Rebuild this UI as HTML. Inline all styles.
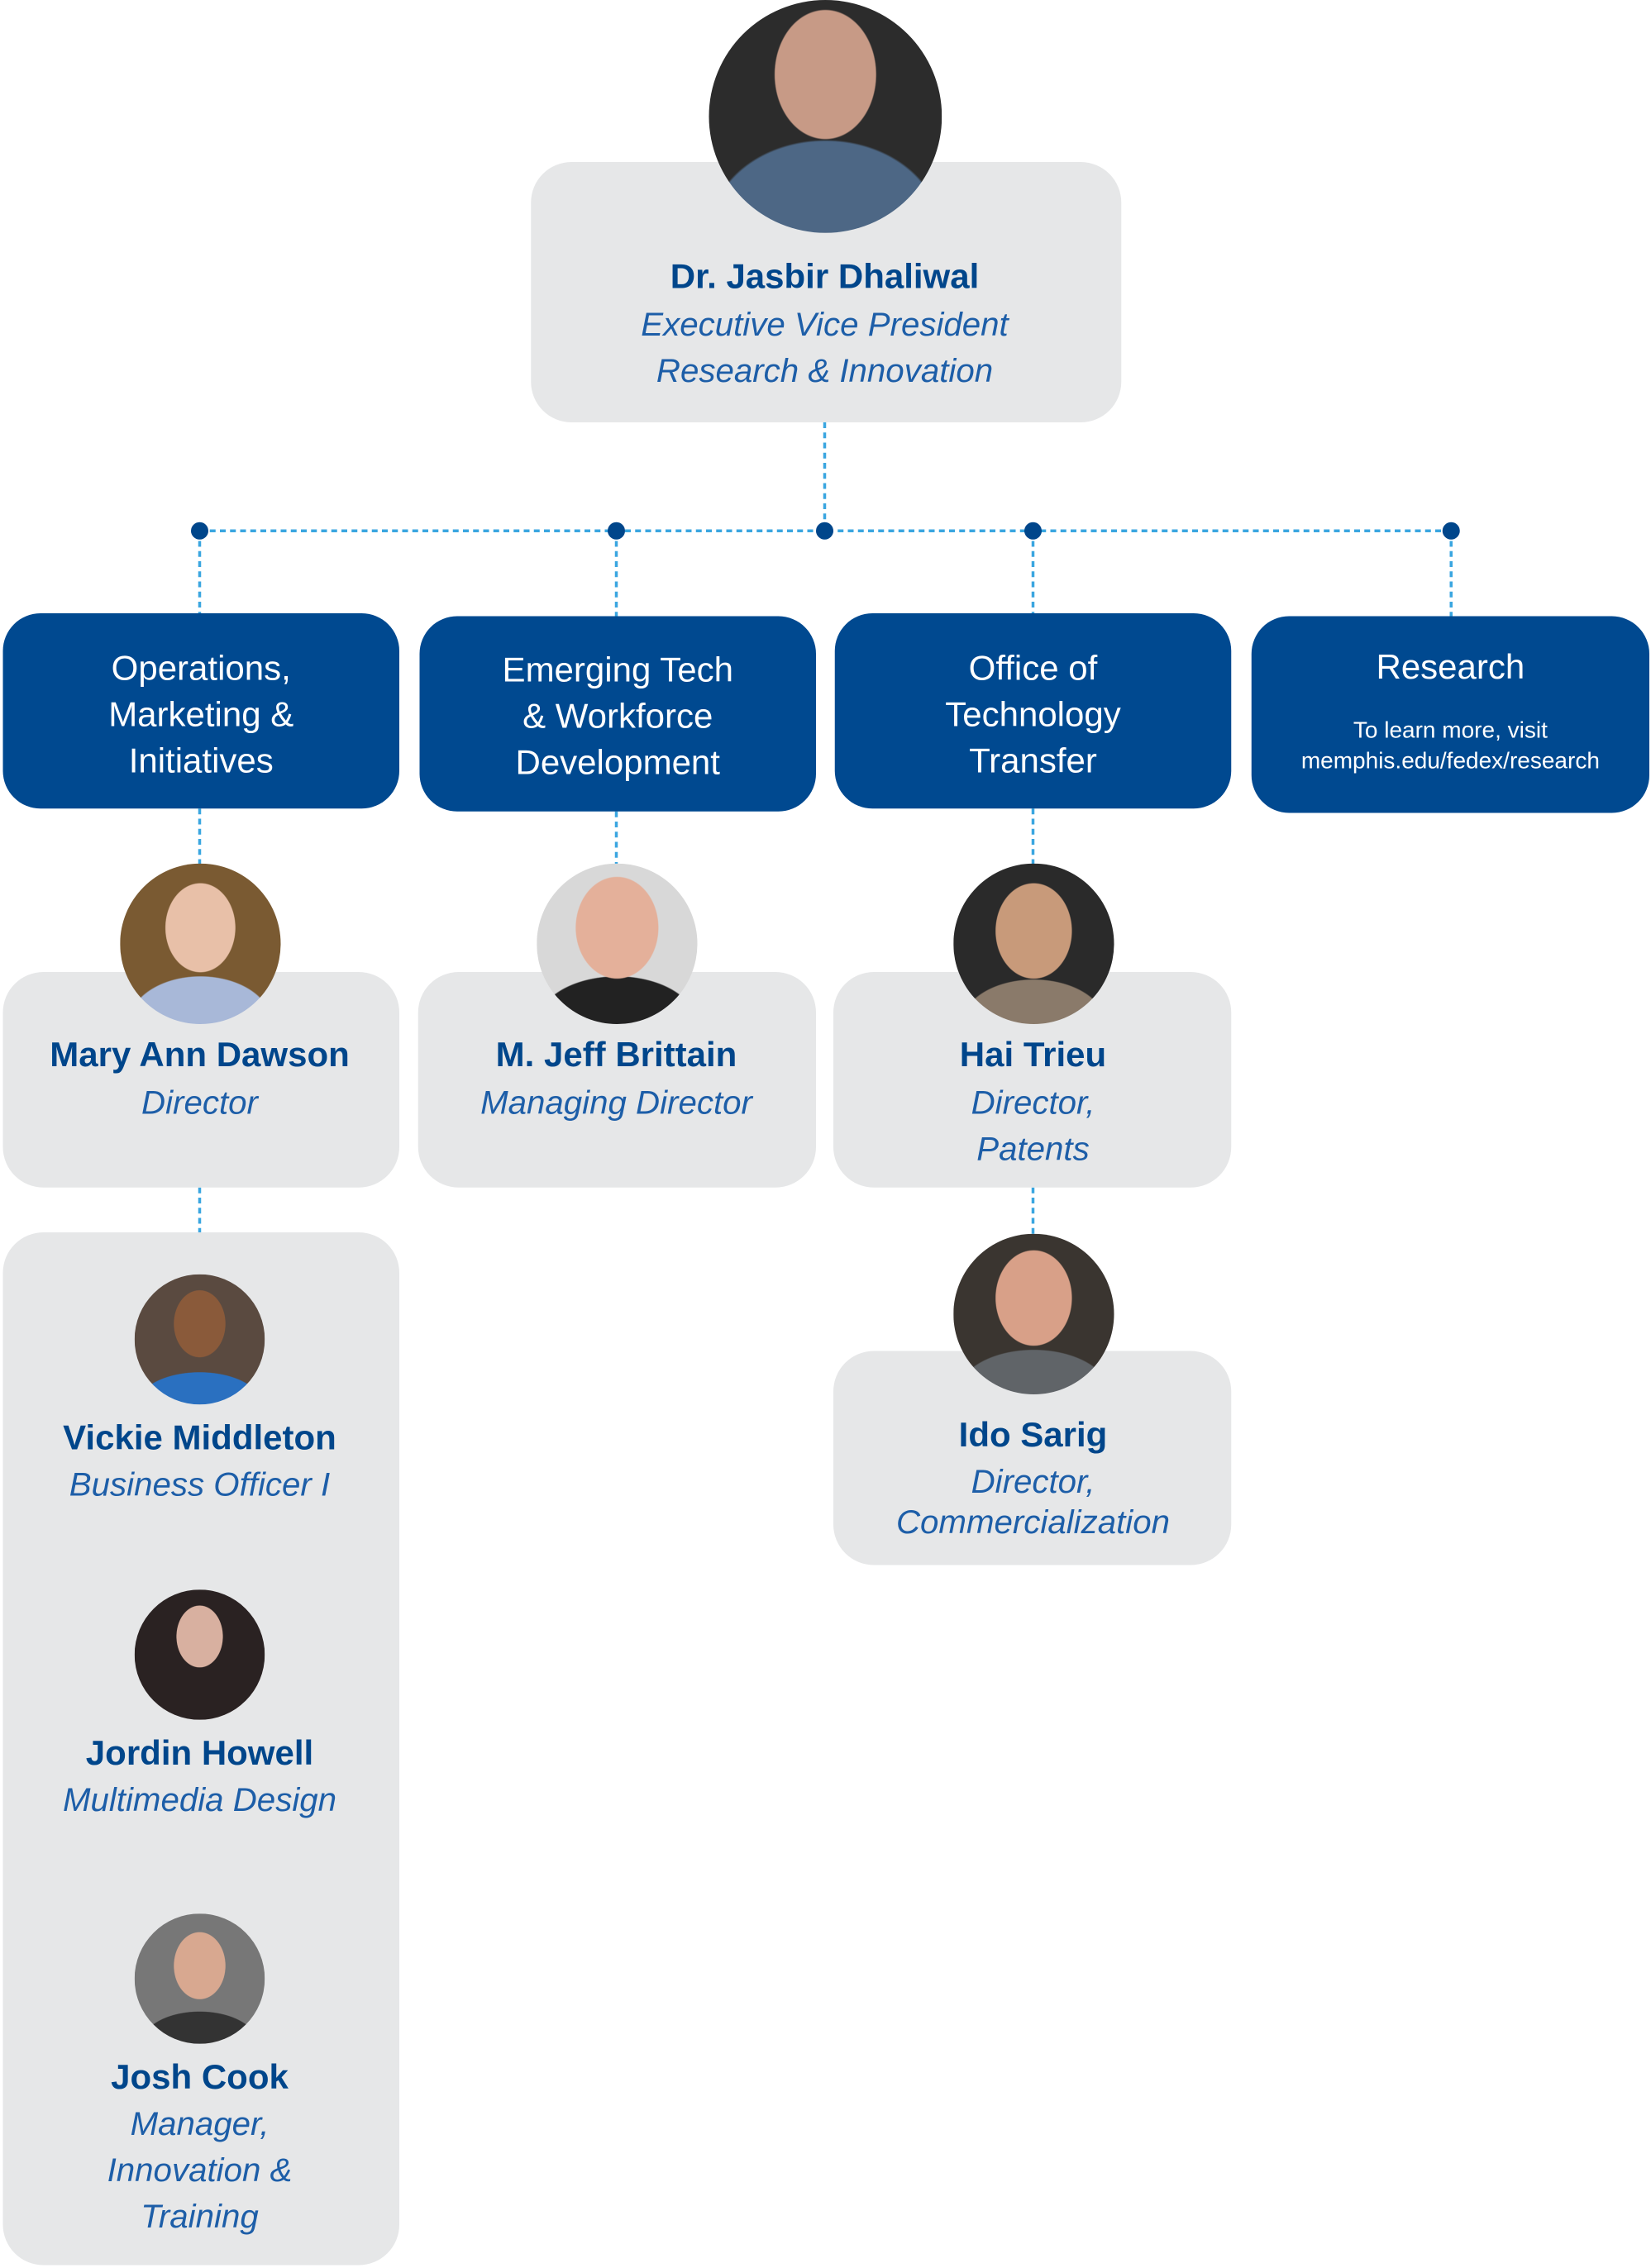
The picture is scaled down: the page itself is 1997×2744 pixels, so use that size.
<!DOCTYPE html>
<html><head><meta charset="utf-8"><style>
html,body{margin:0;padding:0;background:#fff}
body{width:1997px;height:2744px;overflow:hidden;position:relative}
#w{position:absolute;left:0;top:0;width:1141px;height:1568px;transform:scale(1.75);transform-origin:0 0;font-family:"Liberation Sans",sans-serif}
.card{position:absolute;background:#e6e7e8;border-radius:28px}
.blue{position:absolute;background:#004990;border-radius:26px;color:#fff;text-align:center;font-size:24px;line-height:32px;box-sizing:border-box}
.ph{position:absolute;border-radius:50%;overflow:hidden}
.t{position:absolute;text-align:center;white-space:nowrap;transform:translateX(-50%)}
.n{font-weight:bold;color:#00468b;font-size:24px}
.i{font-style:italic;color:#1d5ea8;font-size:23px}
</style></head><body><div id="w">
<svg width="1141" height="1568" style="position:absolute;left:0;top:0">
<g stroke="#3aa6e0" stroke-width="2" stroke-dasharray="4,3" fill="none">
<line x1="570" y1="292" x2="570" y2="367"/>
<line x1="138" y1="367" x2="1003" y2="367"/>
<line x1="138" y1="367" x2="138" y2="424"/>
<line x1="426" y1="367" x2="426" y2="426"/>
<line x1="714" y1="367" x2="714" y2="424"/>
<line x1="1003" y1="367" x2="1003" y2="426"/>
<line x1="138" y1="559" x2="138" y2="600"/>
<line x1="426" y1="561" x2="426" y2="600"/>
<line x1="714" y1="559" x2="714" y2="600"/>
<line x1="138" y1="821" x2="138" y2="852"/>
<line x1="714" y1="821" x2="714" y2="855"/>
</g>
<g fill="#00468b"><circle cx="138" cy="367" r="6"/><circle cx="426" cy="367" r="6"/><circle cx="570" cy="367" r="6"/><circle cx="714" cy="367" r="6"/><circle cx="1003" cy="367" r="6"/></g>
</svg>
<div class="card" style="left:367px;top:112px;width:408px;height:180px"></div>
<div class="ph" style="left:490px;top:0;width:161px;height:161px;background:radial-gradient(ellipse 22% 28% at 50% 32%,#c79a86 98%,transparent 100%),radial-gradient(ellipse 50% 40% at 50% 100%,#4d6785 98%,transparent 100%),#2c2c2c"></div>
<div class="t n" style="left:570px;top:178px">Dr. Jasbir Dhaliwal</div>
<div class="t i" style="left:570px;top:211px">Executive Vice President</div>
<div class="t i" style="left:570px;top:243px">Research &amp; Innovation</div>

<div class="blue" style="left:2px;top:424px;width:274px;height:135px;padding-top:23px">Operations,<br>Marketing &amp;<br>Initiatives</div>
<div class="blue" style="left:290px;top:426px;width:274px;height:135px;padding-top:22px">Emerging Tech<br>&amp; Workforce<br>Development</div>
<div class="blue" style="left:577px;top:424px;width:274px;height:135px;padding-top:23px">Office of<br>Technology<br>Transfer</div>
<div class="blue" style="left:865px;top:426px;width:275px;height:136px;padding-top:20px">Research<div style="font-size:16px;line-height:21px;margin-top:17px">To learn more, visit<br>memphis.edu/fedex/research</div></div>

<div class="card" style="left:2px;top:672px;width:274px;height:149px"></div>
<div class="card" style="left:289px;top:672px;width:275px;height:149px"></div>
<div class="card" style="left:576px;top:672px;width:275px;height:149px"></div>
<div class="ph" style="left:83px;top:597px;width:111px;height:111px;background:radial-gradient(ellipse 22% 28% at 50% 40%,#e8c0a8 98%,transparent 100%),radial-gradient(ellipse 45% 30% at 50% 100%,#a8b8d8 98%,transparent 100%),#7a5a32"></div>
<div class="ph" style="left:371px;top:597px;width:111px;height:111px;background:radial-gradient(ellipse 26% 32% at 50% 40%,#e4b09a 98%,transparent 100%),radial-gradient(ellipse 50% 30% at 50% 100%,#222 98%,transparent 100%),#d8d8d8"></div>
<div class="ph" style="left:659px;top:597px;width:111px;height:111px;background:radial-gradient(ellipse 24% 30% at 50% 42%,#c89a7a 98%,transparent 100%),radial-gradient(ellipse 45% 28% at 50% 100%,#8a7a6a 98%,transparent 100%),#2a2a2a"></div>
<div class="t n" style="left:138px;top:716px">Mary Ann Dawson</div>
<div class="t i" style="left:138px;top:749px">Director</div>
<div class="t n" style="left:426px;top:716px">M. Jeff Brittain</div>
<div class="t i" style="left:426px;top:749px">Managing Director</div>
<div class="t n" style="left:714px;top:716px">Hai Trieu</div>
<div class="t i" style="left:714px;top:749px">Director,</div>
<div class="t i" style="left:714px;top:781px">Patents</div>

<div class="card" style="left:2px;top:852px;width:274px;height:714px"></div>
<div class="ph" style="left:93px;top:881px;width:90px;height:90px;background:radial-gradient(ellipse 20% 26% at 50% 38%,#8a5a3a 98%,transparent 100%),radial-gradient(ellipse 48% 25% at 50% 100%,#2a70c0 98%,transparent 100%),#5a4a40"></div>
<div class="ph" style="left:93px;top:1099px;width:90px;height:90px;background:radial-gradient(ellipse 18% 24% at 50% 36%,#d8b0a0 98%,transparent 100%),#2a2222"></div>
<div class="ph" style="left:93px;top:1323px;width:90px;height:90px;background:radial-gradient(ellipse 20% 26% at 50% 40%,#d8a890 98%,transparent 100%),radial-gradient(ellipse 45% 25% at 50% 100%,#333 98%,transparent 100%),#777"></div>
<div class="t n" style="left:138px;top:981px">Vickie Middleton</div>
<div class="t i" style="left:138px;top:1013px">Business Officer I</div>
<div class="t n" style="left:138px;top:1199px">Jordin Howell</div>
<div class="t i" style="left:138px;top:1231px">Multimedia Design</div>
<div class="t n" style="left:138px;top:1423px">Josh Cook</div>
<div class="t i" style="left:138px;top:1455px">Manager,</div>
<div class="t i" style="left:138px;top:1487px">Innovation &amp;</div>
<div class="t i" style="left:138px;top:1519px">Training</div>

<div class="card" style="left:576px;top:934px;width:275px;height:148px"></div>
<div class="ph" style="left:659px;top:853px;width:111px;height:111px;background:radial-gradient(ellipse 24% 30% at 50% 40%,#d8a088 98%,transparent 100%),radial-gradient(ellipse 48% 28% at 50% 100%,#606468 98%,transparent 100%),#3a3530"></div>
<div class="t n" style="left:714px;top:979px">Ido Sarig</div>
<div class="t i" style="left:714px;top:1011px">Director,</div>
<div class="t i" style="left:714px;top:1039px">Commercialization</div>
</div></body></html>
